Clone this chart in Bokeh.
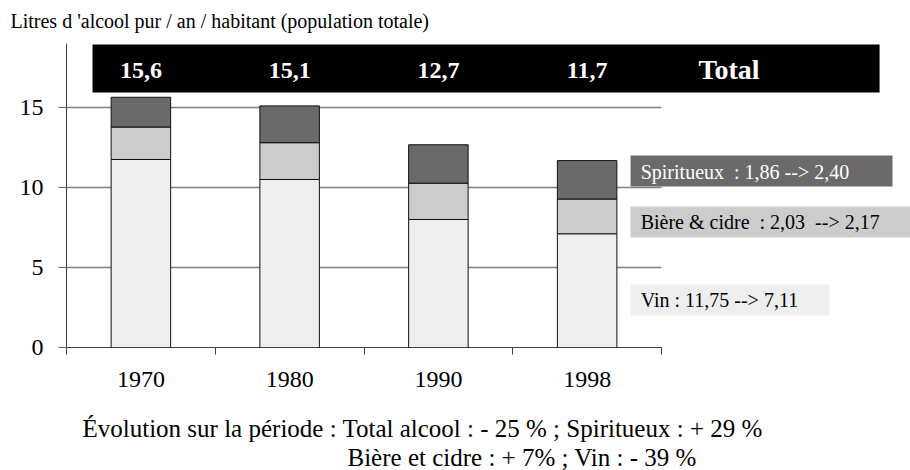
from bokeh.plotting import figure
from bokeh.models import Range1d, FixedTicker, ColumnDataSource, Title
from bokeh.core.properties import value
from bokeh.embed import file_html
from bokeh.resources import INLINE

# ---- data ----
years = ["1970", "1980", "1990", "1998"]
vin = [11.75, 10.5, 8.0, 7.11]
biere = [2.03, 2.3, 2.27, 2.17]
spiritueux = [1.86, 2.3, 2.4, 2.40]
y_ticks = [0, 5, 10, 15]
legend_texts = ["Spiritueux \u00a0: 1,86 --> 2,40",
                "Bi\u00e8re & cidre \u00a0: 2,03 \u00a0--> 2,17",
                "Vin : 11,75 --> 7,11"]
title_text = "Litres d 'alcool pur / an / habitant (population totale)"
note_line1 = "\u00c9volution sur la p\u00e9riode : Total alcool : - 25 % ; Spiritueux : + 29 %"
note_line2 = "Bi\u00e8re et cidre : + 7% ; Vin : - 39 %"

FONT = "Liberation Serif"
C_VIN, C_BIERE, C_SPIRIT = "#eeeeee", "#cccccc", "#6a6a6a"

xc = [i + 0.5 for i in range(len(years))]
totals = [v + b + s for v, b, s in zip(vin, biere, spiritueux)]
total_labels = [f"{t:.1f}".replace(".", ",") for t in totals]

PX_X = 148.75   # pixels per category
PX_Y = 16.0     # pixels per litre
TOP, LEFT = 35, 66
W, H = 910, 470
BOTTOM = H - 347

p = figure(width=W, height=H,
           x_range=Range1d(0, (W - LEFT) / PX_X),
           y_range=Range1d(0, (H - TOP - BOTTOM) / PX_Y),
           output_backend="svg", toolbar_location=None,
           min_border_left=LEFT, min_border_right=0, min_border_top=TOP,
           min_border_bottom=BOTTOM)
p.outline_line_color = None
p.xgrid.visible = False
p.ygrid.visible = False

# title
p.title.text = title_text
p.title.align = "left"
p.title.offset = -56
p.title.text_font = FONT
p.title.text_font_size = "20px"
p.title.text_font_style = "normal"
p.title.text_color = "black"
p.title.standoff = 7

# horizontal grid lines limited to the category span
p.segment(x0=[0] * len(y_ticks[1:]), x1=[len(years)] * len(y_ticks[1:]),
          y0=y_ticks[1:], y1=y_ticks[1:], line_color="#808080", line_width=1.5)

src = ColumnDataSource(dict(x=xc, vin=vin, biere=biere, spiritueux=spiritueux))
p.vbar_stack(["vin", "biere", "spiritueux"], x="x", width=0.4, source=src,
             fill_color=[C_VIN, C_BIERE, C_SPIRIT], line_color="#111111",
             line_width=1)

# banner of totals
p.quad(left=[0.175], right=[5.466], bottom=[15.94], top=[18.94],
       fill_color="black", line_color=None)
p.text(x=xc, y=[17.3] * len(xc), text=total_labels, text_color="white",
       text_font=value(FONT), text_font_size=value("24px"),
       text_font_style="bold", text_align="center", text_baseline="middle")
p.text(x=[4.454], y=[17.4], text=["Total"], text_color="white",
       text_font=value(FONT), text_font_size=value("28px"),
       text_font_style="bold", text_align="center", text_baseline="middle")

# legend boxes
p.quad(left=[3.792] * 3, right=[5.553, 5.8, 5.129],
       bottom=[10.06, 6.875, 2.0], top=[12.0, 8.81, 3.94],
       fill_color=[C_SPIRIT, C_BIERE, C_VIN], line_color=None)
p.text(x=[3.86] * 3, y=[11.0, 7.84, 2.97], text=legend_texts,
       text_color=["white", "black", "black"], text_font=value(FONT),
       text_font_size=value("20px"), text_baseline="middle")

# axes
xa = p.xaxis[0]
xa.ticker = FixedTicker(ticks=xc, minor_ticks=list(range(len(years) + 1)))
xa.major_label_overrides = {x: y for x, y in zip(xc, years)}
xa.bounds = (0, len(years))
xa.major_tick_line_color = None
xa.minor_tick_in = 0
xa.minor_tick_out = 7
xa.minor_tick_line_color = "#404040"
xa.axis_line_color = "#404040"
xa.major_label_text_font = FONT
xa.major_label_text_font_size = "24px"
xa.major_label_text_color = "black"
xa.major_label_standoff = 17
# invisible spacer label pushing the footnotes down
xa.axis_label = "\u00a0"
xa.axis_label_text_font_size = "2px"
xa.axis_label_standoff = 18

ya = p.yaxis[0]
ya.ticker = FixedTicker(ticks=y_ticks)
ya.bounds = (0, 19)
ya.major_tick_in = 0
ya.major_tick_out = 8
ya.major_tick_line_color = "#606060"
ya.minor_tick_line_color = None
ya.axis_line_color = "#404040"
ya.major_label_text_font = FONT
ya.major_label_text_font_size = "24px"
ya.major_label_text_color = "black"
ya.major_label_standoff = 15

# footnotes
for txt, off, so in [(note_line1, 16, 0), (note_line2, 281, 0)]:
    p.add_layout(Title(text=txt, align="left", offset=off, text_font=FONT,
                       text_font_size="25px", text_font_style="normal",
                       text_color="black", standoff=so), "below")

open("out.html", "w").write(file_html(p, INLINE))
